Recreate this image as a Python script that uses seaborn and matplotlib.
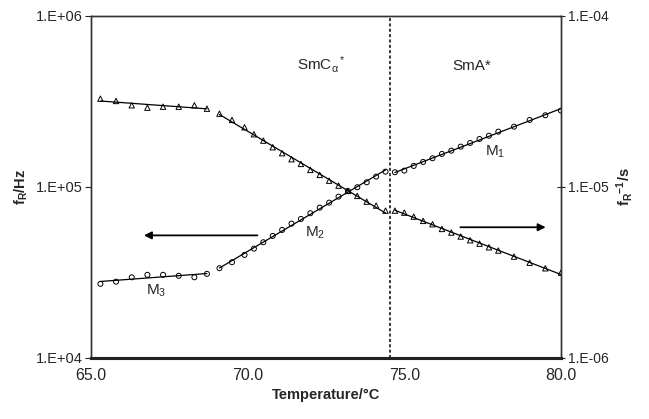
import numpy as np
import pandas as pd
import matplotlib
matplotlib.use('Agg')
import matplotlib.pyplot as plt
import seaborn as sns
from matplotlib.ticker import FixedLocator, NullLocator

# temperatures per regime (°C)
temp_m3 = [65.3, 65.8, 66.3, 66.8, 67.3, 67.8, 68.3, 68.7]
temp_m2 = [69.1, 69.5, 69.9, 70.2, 70.5, 70.8, 71.1, 71.4, 71.7, 72.0,
           72.3, 72.6, 72.9, 73.2, 73.5, 73.8, 74.1, 74.4]
temp_m1 = [74.7, 75.0, 75.3, 75.6, 75.9, 76.2, 76.5, 76.8, 77.1, 77.4,
           77.7, 78.0, 78.5, 79.0, 79.5, 80.0]

# relaxation frequency fR (Hz), left axis
fr_m3 = [27100, 27900, 29600, 30600, 30600, 30200, 29600, 31000]
fr_m2 = [33440, 36250, 39990, 43510, 47420, 51620, 55950, 60910, 64860, 70020,
         75510, 80750, 87530, 94520, 99330, 106200, 114600, 122500]
fr_m1 = [121500, 124200, 132300, 139600, 146700, 155500, 162500, 171500,
         180200, 190100, 198700, 209800, 224300, 245500, 261500, 278200]

# inverse frequency fR^-1 (s), right axis
inv_m3 = [3.268e-5, 3.169e-5, 2.990e-5, 2.895e-5, 2.934e-5, 2.934e-5, 2.990e-5, 2.856e-5]
inv_m2 = [2.671e-5, 2.455e-5, 2.225e-5, 2.026e-5, 1.859e-5, 1.701e-5, 1.570e-5,
          1.447e-5, 1.359e-5, 1.254e-5, 1.172e-5, 1.085e-5, 1.015e-5, 9.45e-6,
          8.84e-6, 8.18e-6, 7.76e-6, 7.25e-6]
inv_m1 = [7.25e-6, 7.06e-6, 6.69e-6, 6.32e-6, 6.04e-6, 5.67e-6, 5.40e-6, 5.12e-6,
          4.87e-6, 4.65e-6, 4.43e-6, 4.24e-6, 3.91e-6, 3.60e-6, 3.34e-6, 3.15e-6]

t_transition = 74.55

sns.set_style('white')
plt.rcParams['font.family'] = ['Liberation Sans', 'DejaVu Sans']
plt.rcParams['mathtext.default'] = 'regular'

fig = plt.figure(figsize=(6.49, 4.19), dpi=100)
ax = fig.add_axes([0.1402, 0.1456, 0.7242, 0.8174])
ax2 = ax.twinx()


def fit_line(t, v):
    # straight line in log scale, as in the original fits
    p = np.polyfit(t, np.log10(v), 1)
    tt = np.array([min(t), max(t)])
    return pd.DataFrame({'t': tt, 'v': 10 ** np.polyval(p, tt)})


segments = [(temp_m3, fr_m3, inv_m3), (temp_m2, fr_m2, inv_m2), (temp_m1, fr_m1, inv_m1)]
for t, fr, inv in segments:
    d1 = pd.DataFrame({'t': t, 'v': fr})
    d2 = pd.DataFrame({'t': t, 'v': inv})
    sns.lineplot(data=fit_line(t, fr), x='t', y='v', ax=ax, color='black', lw=0.9)
    sns.lineplot(data=fit_line(t, inv), x='t', y='v', ax=ax2, color='black', lw=0.9)
    sns.scatterplot(data=d1, x='t', y='v', ax=ax, marker='o', s=13,
                    facecolor='none', edgecolor='black', linewidth=0.7, zorder=3)
    sns.scatterplot(data=d2, x='t', y='v', ax=ax2, marker='^', s=15,
                    facecolor='none', edgecolor='black', linewidth=0.7, zorder=3)

for a in (ax, ax2):
    a.set_yscale('log')
    a.set_xlim(65, 80)
    a.yaxis.set_minor_locator(NullLocator())
ax.set_ylim(1e4, 1e6)
ax2.set_ylim(1e-6, 1e-4)

ax.set_yticks([1e4, 1e5, 1e6])
ax.set_yticklabels(['1.E+04', '1.E+05', '1.E+06'], fontsize=10.5)
ax2.set_yticks([1e-6, 1e-5, 1e-4])
ax2.set_yticklabels(['1.E-06', '1.E-05', '1.E-04'], fontsize=10)
ax.set_xticks([65, 70, 75, 80])
ax.set_xticklabels(['65.0', '70.0', '75.0', '80.0'], fontsize=11.5)
ax.xaxis.set_minor_locator(FixedLocator([67.5, 72.5, 77.5]))

ax.tick_params(axis='x', which='major', direction='out', length=4, width=0.8, pad=3)
ax.tick_params(axis='x', which='minor', direction='out', length=4, width=0.8)
ax.tick_params(axis='y', direction='out', length=4, width=0.8, pad=2)
ax2.tick_params(axis='y', direction='inout', length=6, width=0.8, pad=2)

for a in (ax, ax2):
    for s in a.spines.values():
        s.set_color('#333333')
        s.set_linewidth(1.0)
    a.spines['bottom'].set_linewidth(2.2)
    a.spines['bottom'].set_color('#222222')

ax.set_xlabel('Temperature/°C', fontsize=10.5, fontweight='bold', labelpad=4)
ax.set_ylabel('f$_R$/Hz', fontsize=10.5, fontweight='bold', labelpad=4)
ax2.set_ylabel('f$_R$$^{-1}$/s', fontsize=10.5, fontweight='bold', labelpad=4,
               rotation=90)

ax.axvline(t_transition, color='black', ls=(0, (2, 1.5)), lw=1.1)

ax.text(71.57, 5.2e5, r'SmC$_\alpha$$^*$', fontsize=11, ha='left', va='center')
ax.text(76.54, 5.1e5, 'SmA*', fontsize=11, ha='left', va='center')
ax.text(77.57, 1.6e5, 'M$_1$', fontsize=11, ha='left', va='center')
ax.text(71.83, 5.4e4, 'M$_2$', fontsize=11, ha='left', va='center')
ax.text(67.07, 2.47e4, 'M$_3$', fontsize=11, ha='center', va='center')

ax.annotate('', xy=(66.6, 5.2e4), xytext=(70.4, 5.2e4),
            arrowprops=dict(arrowstyle='-|>', color='black', lw=1.3,
                            mutation_scale=11))
ax2.annotate('', xy=(79.6, 5.8e-6), xytext=(76.7, 5.8e-6),
             arrowprops=dict(arrowstyle='-|>', color='black', lw=1.3,
                             mutation_scale=11))

fig.savefig('out.png', dpi=100)
